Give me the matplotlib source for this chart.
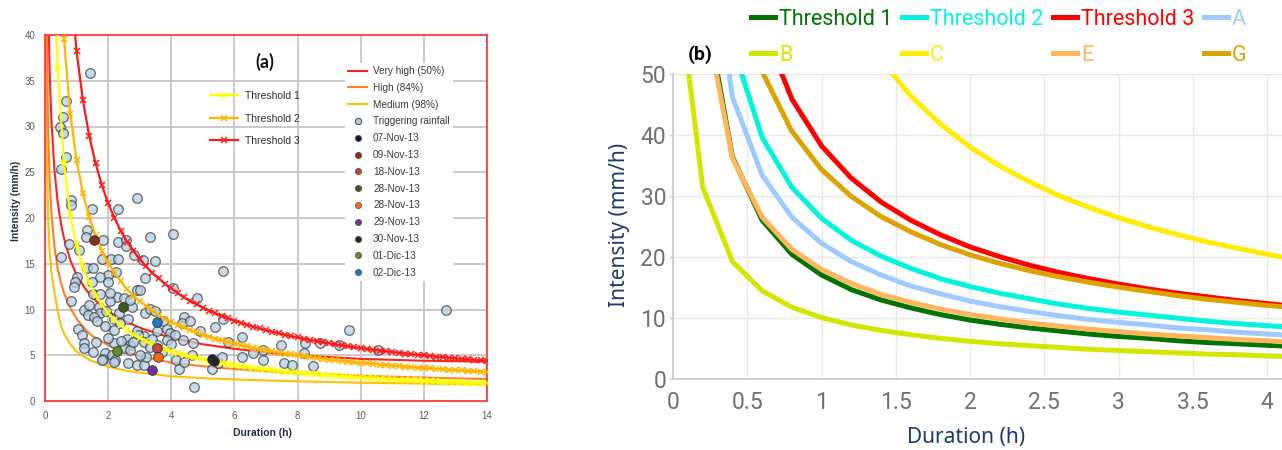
import matplotlib
matplotlib.use("Agg")
import matplotlib.pyplot as plt
from matplotlib.lines import Line2D

# ---------------- panel (a) data ----------------
# thresholds sampled every 0.2 h (shared with panel b)
dur_thr = [0.2, 0.4, 0.6, 0.8, 1.0, 1.2, 1.4, 1.6, 1.8, 2.0,
           2.2, 2.4, 2.6, 2.8, 3.0, 3.2, 3.4, 3.6, 3.8, 4.0,
           4.2, 4.4, 4.6, 4.8, 5.0, 5.2, 5.4, 5.6, 5.8, 6.0,
           6.2, 6.4, 6.6, 6.8, 7.0, 7.2, 7.4, 7.6, 7.8, 8.0,
           8.2, 8.4, 8.6, 8.8, 9.0, 9.2, 9.4, 9.6, 9.8, 10.0,
           10.2, 10.4, 10.6, 10.8, 11.0, 11.2, 11.4, 11.6, 11.8, 12.0,
           12.2, 12.4, 12.6, 12.8, 13.0, 13.2, 13.4, 13.6, 13.8, 14.0]
thr1 = [63.6, 36.4, 26.0, 20.4, 17.0, 14.6, 12.9, 11.6, 10.5, 9.6,
        8.9, 8.3, 7.8, 7.3, 6.9, 6.6, 6.2, 5.9, 5.7, 5.45,
        5.24, 5.04, 4.86, 4.70, 4.54, 4.40, 4.27, 4.14, 4.02, 3.91,
        3.81, 3.71, 3.62, 3.53, 3.45, 3.37, 3.29, 3.22, 3.15, 3.09,
        3.03, 2.97, 2.91, 2.86, 2.81, 2.76, 2.71, 2.66, 2.62, 2.57,
        2.53, 2.49, 2.45, 2.42, 2.38, 2.34, 2.31, 2.28, 2.25, 2.22,
        2.19, 2.16, 2.13, 2.10, 2.08, 2.05, 2.02, 2.00, 1.98, 1.95]
thr2 = [95.3, 54.7, 39.6, 31.4, 26.3, 22.7, 20.1, 18.1, 16.4, 15.1,
        14.0, 13.1, 12.2, 11.5, 10.9, 10.4, 9.9, 9.4, 9.0, 8.68,
        8.34, 8.04, 7.76, 7.50, 7.26, 7.03, 6.82, 6.63, 6.44, 6.27,
        6.11, 5.96, 5.81, 5.68, 5.54, 5.42, 5.30, 5.19, 5.09, 4.98,
        4.89, 4.79, 4.70, 4.62, 4.53, 4.46, 4.38, 4.31, 4.24, 4.17,
        4.10, 4.04, 3.98, 3.92, 3.86, 3.81, 3.75, 3.70, 3.65, 3.60,
        3.56, 3.51, 3.46, 3.42, 3.38, 3.34, 3.30, 3.26, 3.22, 3.19]
thr3 = [143.0, 81.0, 58.1, 45.9, 38.2, 32.9, 29.0, 26.0, 23.6, 21.6,
        20.0, 18.6, 17.4, 16.4, 15.5, 14.7, 14.0, 13.4, 12.8, 12.3,
        11.8, 11.33, 10.93, 10.55, 10.21, 9.89, 9.58, 9.30, 9.04, 8.79,
        8.56, 8.34, 8.13, 7.93, 7.75, 7.57, 7.40, 7.24, 7.09, 6.94,
        6.80, 6.67, 6.54, 6.42, 6.30, 6.19, 6.08, 5.98, 5.88, 5.78,
        5.69, 5.60, 5.51, 5.43, 5.35, 5.27, 5.19, 5.12, 5.05, 4.98,
        4.91, 4.85, 4.78, 4.72, 4.66, 4.60, 4.55, 4.49, 4.44, 4.39]

# probability curves
dur_thin = [0.02, 0.05, 0.1, 0.15, 0.2, 0.3, 0.4, 0.5, 0.6, 0.8, 1.0, 1.25,
            1.5, 2, 2.5, 3, 4, 5, 6, 7, 8, 10, 12, 14]
very_high = [97, 62, 43.6, 35.6, 30.9, 25.2, 21.8, 19.5, 17.8, 15.4, 13.8, 12.4,
             11.3, 9.8, 8.8, 8.0, 6.9, 6.2, 5.7, 5.3, 5.0, 4.6, 4.4, 4.3]
high = [66, 42, 29.4, 23.9, 20.7, 16.8, 14.5, 13.0, 11.8, 10.2, 9.0, 7.9,
        7.1, 6.1, 5.4, 4.9, 4.2, 3.8, 3.5, 3.25, 3.05, 2.75, 2.55, 2.4]
medium = [44, 28, 20, 16.3, 14.2, 11.8, 9.9, 8.3, 7.4, 6.2, 5.4, 4.8,
          4.35, 3.75, 3.35, 3.1, 2.7, 2.5, 2.35, 2.25, 2.15, 2.0, 1.9, 1.8]

# triggering rainfall events
trig_x = [1.41, 0.66, 0.58, 0.48, 0.56, 0.67, 0.50, 2.91, 0.81, 0.81, 1.50, 2.32,
          4.06, 3.33, 1.32, 1.30, 1.85, 2.32, 2.57, 2.57, 0.76, 1.09, 0.50, 1.81,
          2.08, 2.32, 2.82, 3.09, 3.48, 5.65, 1.32, 1.51, 2.25, 1.98, 1.02, 0.95,
          1.74, 1.48, 2.01, 3.17, 0.92, 2.91, 3.01, 4.07, 4.81, 1.51, 1.74, 2.29,
          2.50, 0.81, 2.06, 1.22, 1.70, 2.75, 1.74, 1.93, 1.37, 1.56, 2.17, 3.17,
          3.33, 3.49, 3.75, 4.39, 4.33, 4.60, 4.91, 5.39, 5.65, 1.06, 1.16, 1.64,
          2.17, 2.38, 2.64, 2.91, 3.12, 3.54, 3.86, 3.96, 4.12, 2.59, 2.96, 3.38,
          3.86, 4.36, 4.68, 5.81, 6.23, 1.22, 2.17, 2.69, 3.12, 3.33, 3.54, 1.22,
          1.51, 2.50, 2.69, 1.90, 2.11, 1.83, 2.22, 2.64, 2.91, 3.12, 3.19, 4.15,
          4.25, 4.39, 4.65, 4.73, 5.30, 5.49, 5.60, 6.23, 6.60, 6.90, 6.92, 7.48,
          7.56, 7.82, 8.19, 8.24, 8.49, 8.72, 9.30, 9.64, 10.55, 12.71, 2.17, 1.80,
          2.40, 2.80, 1.40, 1.90, 2.00, 3.70, 4.00, 3.00, 1.60, 2.05, 2.70, 2.35]
trig_y = [35.9, 32.8, 31.0, 30.0, 29.3, 26.7, 25.4, 22.2, 22.0, 21.4, 21.0, 21.0,
          18.2, 17.9, 18.7, 17.9, 17.6, 17.4, 17.6, 16.9, 17.2, 16.5, 15.7, 15.5,
          15.5, 15.5, 16.0, 15.4, 15.3, 14.2, 14.5, 14.5, 14.1, 13.8, 13.6, 13.0,
          13.5, 13.0, 13.0, 13.4, 12.5, 12.1, 12.1, 12.3, 11.3, 11.7, 11.7, 11.4,
          11.3, 10.9, 10.9, 9.9, 10.3, 10.3, 9.6, 9.8, 9.4, 9.2, 9.0, 9.6,
          10.1, 9.8, 8.7, 9.2, 8.5, 8.7, 7.6, 8.1, 9.0, 7.9, 7.2, 8.7,
          7.8, 8.5, 9.0, 7.6, 7.1, 7.6, 7.9, 7.4, 7.2, 6.8, 7.2, 6.8,
          6.7, 6.7, 6.3, 6.5, 7.0, 6.3, 6.3, 6.1, 6.5, 5.9, 6.1, 5.8,
          5.4, 5.8, 5.6, 5.2, 5.0, 4.6, 4.5, 4.2, 3.9, 3.9, 4.8, 4.5,
          3.5, 4.3, 5.0, 1.5, 3.5, 4.1, 4.8, 4.8, 5.2, 5.6, 4.5, 6.1,
          4.1, 3.9, 5.3, 6.3, 3.8, 6.3, 6.1, 7.8, 5.6, 9.9, 4.3, 4.5,
          6.6, 6.4, 10.5, 8.2, 6.9, 5.4, 6.2, 5.0, 6.4, 11.8, 11.0, 9.6]

event_labels = ['07-Nov-13', '09-Nov-13', '18-Nov-13', '28-Nov-13', '28-Nov-13',
                '29-Nov-13', '30-Nov-13', '01-Dic-13', '02-Dic-13']
event_x = [5.30, 1.56, 3.55, 2.48, 3.59, 3.40, 5.34, 2.27, 3.56]
event_y = [4.6, 17.6, 5.8, 10.3, 4.8, 3.4, 4.4, 5.5, 8.6]
event_colors = ['#0b1a3a', '#8e2a1c', '#c94040', '#3d5a1e', '#f07010',
                '#7030a0', '#252525', '#5e8c2a', '#1f78c4']

# ---------------- panel (b) data ----------------
dur_b = [0.1, 0.2, 0.4, 0.6, 0.8, 1.0, 1.2, 1.4, 1.6, 1.8, 2.0,
         2.2, 2.4, 2.6, 2.8, 3.0, 3.2, 3.4, 3.6, 3.8, 4.0, 4.2]
curve_A = [140, 80.4, 46.2, 33.4, 26.5, 22.2, 19.2, 17.0, 15.2, 13.9, 12.7,
           11.8, 11.0, 10.3, 9.7, 9.2, 8.8, 8.3, 8.0, 7.6, 7.3, 7.0]
curve_B = [51.3, 31.4, 19.2, 14.4, 11.7, 10.0, 8.8, 7.9, 7.2, 6.6, 6.1,
           5.7, 5.4, 5.1, 4.8, 4.6, 4.4, 4.2, 4.0, 3.9, 3.7, 3.6]
curve_C = [558, 300, 161, 111.9, 86.5, 70.8, 60.1, 52.4, 46.4, 41.8, 38.0,
           34.9, 32.3, 30.0, 28.1, 26.4, 24.9, 23.6, 22.4, 21.4, 20.4, 19.5]
curve_E = [105, 61.8, 36.2, 26.5, 21.2, 17.9, 15.6, 13.8, 12.5, 11.4, 10.5,
           9.8, 9.1, 8.6, 8.1, 7.7, 7.3, 7.0, 6.7, 6.4, 6.2, 5.9]
curve_G = [195, 115.6, 68.5, 50.4, 40.6, 34.3, 29.9, 26.6, 24.1, 22.0, 20.3,
           18.9, 17.7, 16.7, 15.8, 15.0, 14.3, 13.6, 13.0, 12.5, 12.0, 11.6]

W, H = 1282, 450
fig = plt.figure(figsize=(W / 100, H / 100), dpi=100)

# ================= panel (a) =================
ax1 = fig.add_axes([45 / W, 1 - 401 / H, 442 / W, 366 / H])
ax1.set_xlim(0, 14)
ax1.set_ylim(0, 40)
ax1.set_xticks(range(0, 15, 2))
ax1.set_yticks(range(0, 41, 5))
ax1.grid(color='#c6c6c6', lw=1.3)
ax1.set_axisbelow(True)
ax1.tick_params(length=0, labelsize=7, labelcolor='#595959', pad=7)
for lab in ax1.get_xticklabels() + ax1.get_yticklabels():
    lab.set_family('Liberation Sans')
for s in ax1.spines.values():
    s.set_color('#ff3b3b')
    s.set_linewidth(1.3)

ax1.plot(dur_thin, medium, color='#ffc000', lw=1.5, zorder=2)
ax1.plot(dur_thin, high, color='#ff7f27', lw=1.5, zorder=2)
ax1.plot(dur_thin, very_high, color='#ff2020', lw=1.5, zorder=2)

ax1.scatter(trig_x, trig_y, s=48, facecolor='#b4d0e6', edgecolor='#3a3a3a',
            lw=0.9, alpha=0.75, zorder=3)

ax1.plot(dur_thr, thr1, color='#ffff00', lw=1.6, marker='x', ms=4.5, mew=1.1, zorder=3.5)
ax1.plot(dur_thr, thr2, color='#ffb400', lw=1.6, marker='x', ms=4.5, mew=1.1, zorder=3.5)
ax1.plot(dur_thr, thr3, color='#ff1a1a', lw=1.6, marker='x', ms=4.5, mew=1.1, zorder=3.5)

for ex, ey, ec in zip(event_x, event_y, event_colors):
    ax1.scatter([ex], [ey], s=48, color=ec, edgecolor='#333333', lw=0.6, zorder=4)

# threshold legend
h1 = [Line2D([], [], color=c, lw=1.6, marker='x', ms=4.5, mew=1.1)
      for c in ['#ffff00', '#ffb400', '#ff1a1a']]
leg1 = ax1.legend(h1, ['Threshold 1', 'Threshold 2', 'Threshold 3'],
                  loc='upper left', bbox_to_anchor=((210 - 45) / 442, (401 - 91) / 366),
                  frameon=False, prop={'family': 'Liberation Sans', 'size': 7.5},
                  handlelength=2.7, handletextpad=0.65, labelspacing=1.2,
                  borderpad=0, borderaxespad=0)
for t in leg1.get_texts():
    t.set_color('#303030')
ax1.add_artist(leg1)

# probability / events legend
h2 = [Line2D([], [], color='#ff2020', lw=1.5),
      Line2D([], [], color='#ff7f27', lw=1.5),
      Line2D([], [], color='#ffc000', lw=1.5),
      Line2D([], [], ls='none', marker='o', ms=4.5, mfc='#b4d0e6', mec='#505050', mew=0.8)]
h2 += [Line2D([], [], ls='none', marker='o', ms=4.5, mfc=c, mec='#505050', mew=0.5)
       for c in event_colors]
lab2 = ['Very high (50%)', 'High (84%)', 'Medium (98%)', 'Triggering rainfall'] + event_labels
leg2 = ax1.legend(h2, lab2, loc='upper left',
                  bbox_to_anchor=((345 - 45) / 442, (401 - 63) / 366),
                  prop={'family': 'Liberation Sans', 'size': 7.2},
                  handlelength=1.9, handletextpad=0.6, labelspacing=0.68,
                  borderpad=0.3, borderaxespad=0, frameon=True,
                  facecolor='white', edgecolor='none', framealpha=1)
for t in leg2.get_texts():
    t.set_color('#3a3a3a')
leg2.set_zorder(5)

fig.text(265 / W, 1 - 62 / H, '(a)', ha='center', va='center', fontsize=13,
         fontweight='bold', family='Lato', color='#111111')
fig.text(262 / W, 1 - 433 / H, 'Duration (h)', ha='center', va='center',
         fontsize=7.5, fontweight='bold', family='Liberation Sans', color='#1f2d4d')
fig.text(16 / W, 1 - 201 / H, 'Intensity (mm/h)', ha='center', va='center',
         rotation=90, fontsize=7.5, fontweight='bold', family='Liberation Sans',
         color='#1f2d4d')

# ================= panel (b) =================
ax2 = fig.add_axes([673 / W, 1 - 378.5 / H, 609 / W, 304.5 / H])
ax2.set_xlim(0, 4.1)
ax2.set_ylim(0, 50)
xt = [0, 0.5, 1, 1.5, 2, 2.5, 3, 3.5, 4]
ax2.set_xticks(xt)
ax2.set_xticklabels(['0', '0.5', '1', '1.5', '2', '2.5', '3', '3.5', '4'])
ax2.set_yticks([0, 10, 20, 30, 40, 50])
ax2.grid(color='#e8e8e8', lw=1)
ax2.set_axisbelow(True)
for side in ['top', 'right']:
    ax2.spines[side].set_visible(False)
for side in ['left', 'bottom']:
    ax2.spines[side].set_color('#c8c8c8')
    ax2.spines[side].set_linewidth(1.2)
ax2.tick_params(axis='x', length=0, pad=9, labelsize=16.5, labelcolor='#707070')
ax2.tick_params(axis='y', length=3, color='#c8c8c8', pad=2, labelsize=16.5,
                labelcolor='#707070')
for lab in ax2.get_xticklabels() + ax2.get_yticklabels():
    lab.set_family('Roboto')

lw_b = 3.6
l_t1, = ax2.plot(dur_thr, thr1, color='#007300', lw=lw_b, label='Threshold 1')
l_t2, = ax2.plot(dur_thr, thr2, color='#00f5dc', lw=lw_b, label='Threshold 2')
l_t3, = ax2.plot(dur_thr, thr3, color='#ff0000', lw=lw_b, label='Threshold 3')
l_a, = ax2.plot(dur_b, curve_A, color='#9fcaff', lw=lw_b, label='A')
l_b, = ax2.plot(dur_b, curve_B, color='#d4e600', lw=lw_b, label='B')
l_c, = ax2.plot(dur_b, curve_C, color='#ffec00', lw=lw_b, label='C')
l_e, = ax2.plot(dur_b, curve_E, color='#ffb55a', lw=lw_b, label='E')
l_g, = ax2.plot(dur_b, curve_G, color='#dba200', lw=lw_b, label='G')

# legend fills column by column
order = [l_t1, l_b, l_t2, l_c, l_t3, l_e, l_a, l_g]
leg3 = fig.legend(order, [l.get_label() for l in order], loc='upper left',
                  bbox_to_anchor=(751 / W, 1 - 9 / H), ncol=4, frameon=False,
                  prop={'family': 'Roboto', 'size': 15.5}, handlelength=1.1,
                  handletextpad=0.2, columnspacing=0.45, labelspacing=0.68,
                  borderpad=0, borderaxespad=0)
for t, l in zip(leg3.get_texts(), leg3.get_lines()):
    t.set_color(l.get_color())

fig.text(700 / W, 1 - 55 / H, '(b)', ha='center', va='center', fontsize=14,
         fontweight='bold', family='Roboto', color='#000000')
fig.text(966 / W, 1 - 437 / H, 'Duration (h)', ha='center', va='center',
         fontsize=15, family='Noto Sans', color='#1c3b6e')
fig.text(620 / W, 1 - 225 / H, 'Intensity (mm/h)', ha='center', va='center',
         rotation=90, fontsize=15, family='Noto Sans', color='#1c3b6e')

fig.savefig('out.png', dpi=100)
